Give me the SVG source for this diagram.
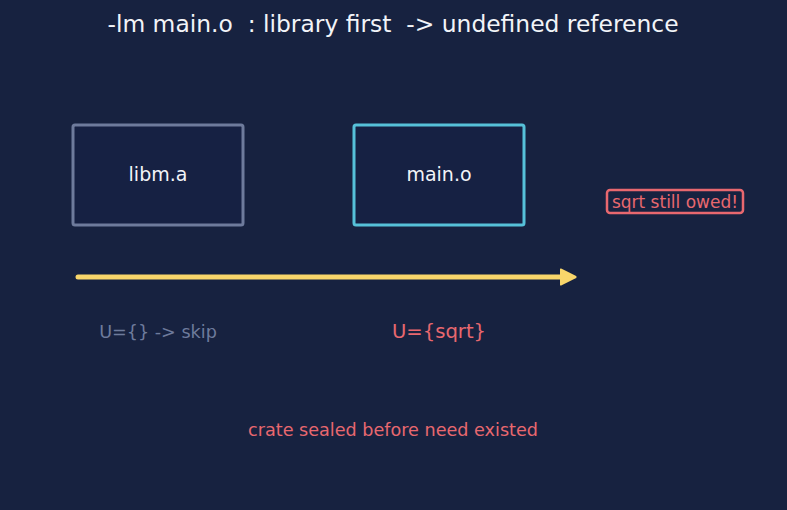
<svg xmlns="http://www.w3.org/2000/svg" width="787" height="510" viewBox="0 0 787 510">
<style>
text{font-family:"DejaVu Sans","Liberation Sans",sans-serif;text-anchor:middle;white-space:pre}
.box{fill:#162143;stroke-width:3}
.lbl{fill:#f2f4f8;font-size:19px}
.red{fill:#e8686f}
</style>
<defs>
<marker id="ah" markerWidth="20" markerHeight="20" refX="6" refY="10" orient="auto" markerUnits="userSpaceOnUse">
<path d="M1,3 L15,10 L1,17 Z" fill="#f8d66b" stroke="#f8d66b" stroke-width="3" stroke-linejoin="round"/>
</marker>
</defs>
<rect width="787" height="510" fill="#172240"/>
<text x="393" y="32" font-size="23.4" fill="#f2f4f8" xml:space="preserve">-lm main.o  : library first  -&gt; undefined reference</text>
<g id="libm">
<rect class="box" x="73" y="125" width="170" height="100" rx="2" stroke="#6e7b9c"/>
<text class="lbl" x="158" y="181">libm.a</text>
</g>
<g id="main">
<rect class="box" x="354" y="125" width="170" height="100" rx="2" stroke="#56c1d9"/>
<text class="lbl" x="439" y="181">main.o</text>
</g>
<g id="owed">
<rect x="607" y="190" width="136" height="23" rx="3" fill="#172240" stroke="#e8686f" stroke-width="2.5"/>
<text class="red" x="675" y="207.5" font-size="17">sqrt still owed!</text>
</g>
<g id="connectors">
<line x1="78" y1="277" x2="566" y2="277" stroke="#f8d66b" stroke-width="5" stroke-linecap="round" marker-end="url(#ah)"/>
</g>
<text x="158" y="338" font-size="17.6" fill="#6e7b9c">U={} -&gt; skip</text>
<text class="red" x="439" y="338" font-size="19.6">U={sqrt}</text>
<text class="red" x="393" y="436" font-size="17.6">crate sealed before need existed</text>
</svg>
